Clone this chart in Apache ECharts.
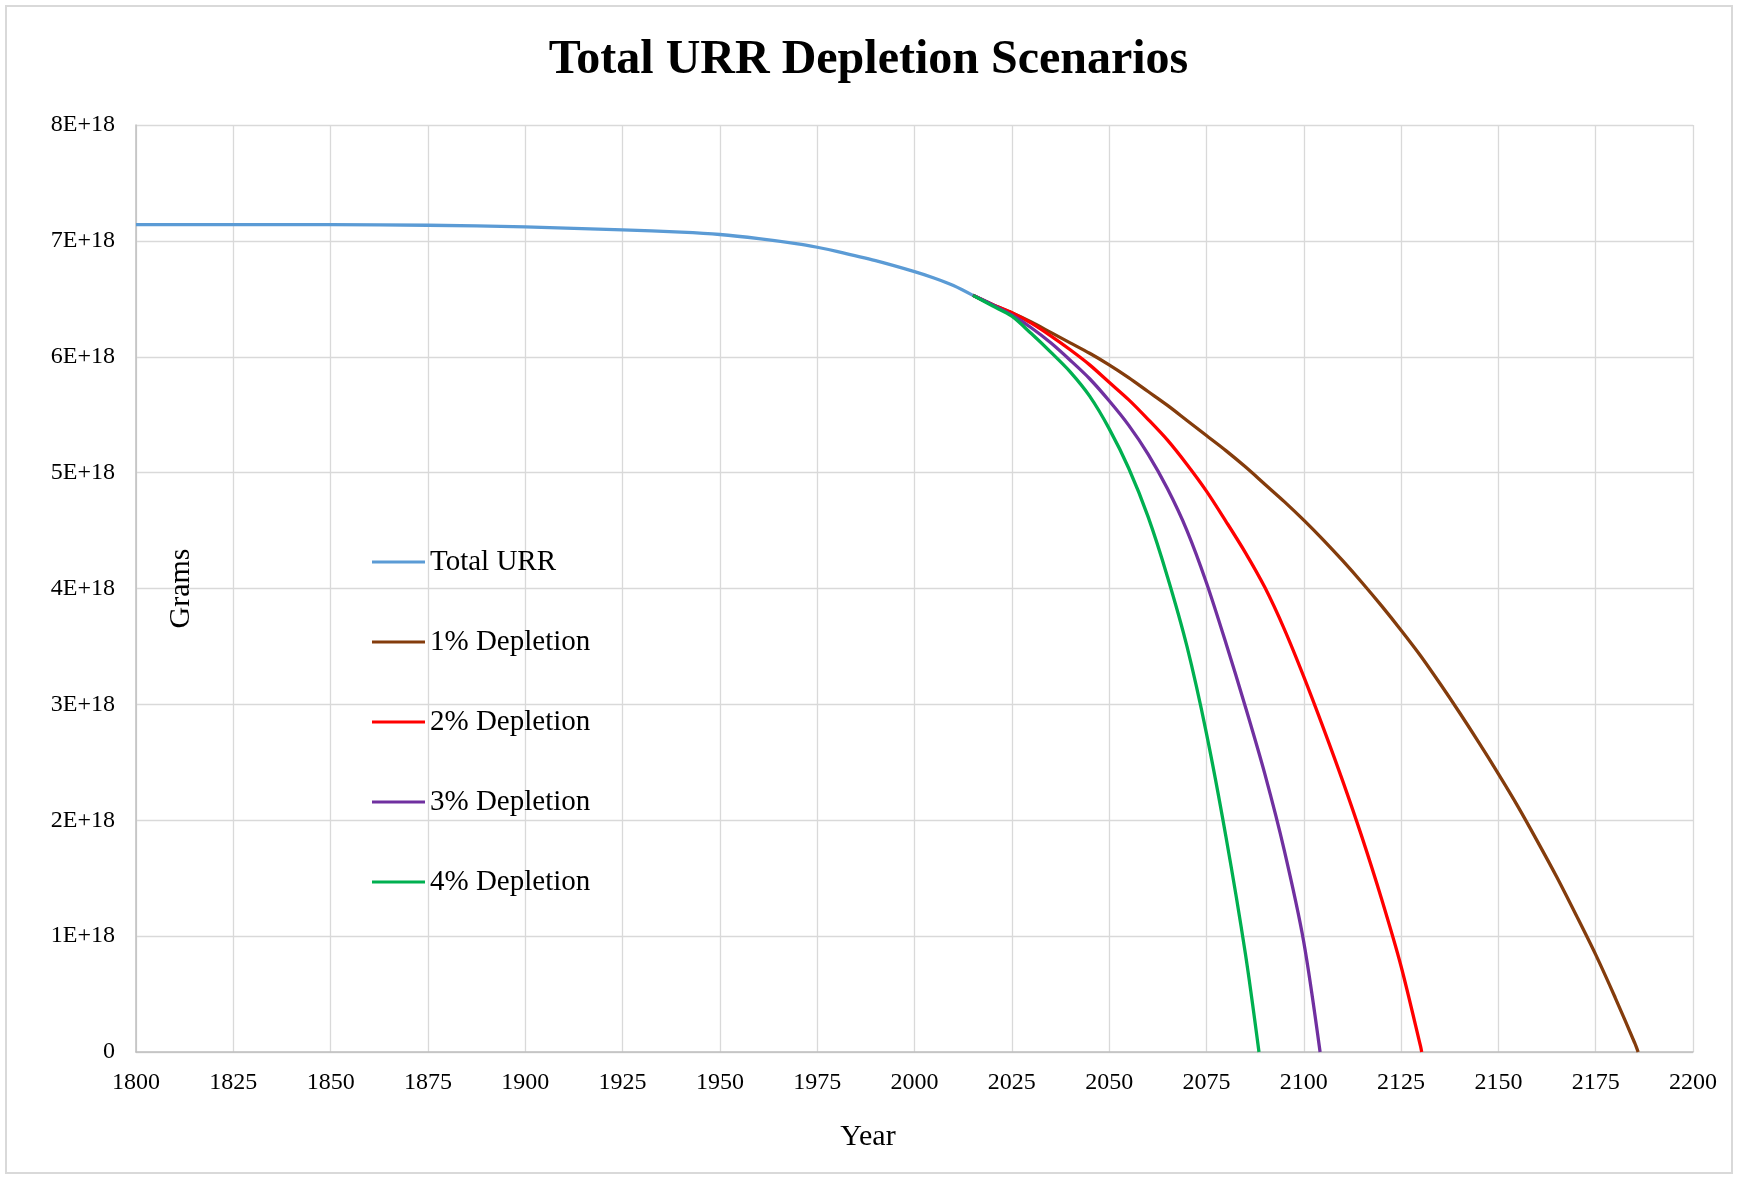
<!DOCTYPE html>
<html>
<head>
<meta charset="utf-8">
<title>Total URR Depletion Scenarios</title>
<script src="https://cdn.jsdelivr.net/npm/echarts@6/dist/echarts.min.js"></script>
<style>
  html, body { margin: 0; padding: 0; background: #fff; }
  #main { width: 1737px; height: 1177px; }
</style>
</head>
<body>
<div id="main"></div>
<script>
// values are in units of 1E+18 grams
var urrYears = [1800, 1825, 1850, 1875, 1900, 1925, 1940, 1950, 1960, 1970, 1975, 1980, 1990, 2000, 2005, 2010, 2015];
var urrValues = [7.14, 7.14, 7.14, 7.135, 7.12, 7.095, 7.075, 7.055, 7.02, 6.975, 6.945, 6.91, 6.83, 6.735, 6.68, 6.615, 6.53];

var dep1Years = [2015, 2020, 2025, 2030, 2035, 2040, 2045, 2050, 2055, 2060, 2065, 2070, 2075, 2080, 2085, 2090, 2095, 2100,
                 2105, 2110, 2115, 2120, 2125, 2130, 2135, 2140, 2145, 2150, 2155, 2160, 2165, 2170, 2175, 2180, 2185, 2185.9];
var dep1Values = [6.53, 6.45, 6.38, 6.30, 6.21, 6.12, 6.03, 5.93, 5.82, 5.70, 5.58, 5.45, 5.32, 5.19, 5.05, 4.90, 4.75, 4.59,
                  4.42, 4.24, 4.05, 3.85, 3.64, 3.42, 3.18, 2.93, 2.67, 2.40, 2.12, 1.82, 1.51, 1.18, 0.84, 0.47, 0.08, 0];

var dep2Years = [2015, 2020, 2025, 2030, 2035, 2040, 2045, 2050, 2055, 2060, 2065, 2070, 2075, 2080, 2085, 2090, 2095, 2100,
                 2105, 2110, 2115, 2120, 2125, 2130, 2130.3];
var dep2Values = [6.53, 6.45, 6.38, 6.29, 6.18, 6.06, 5.93, 5.78, 5.63, 5.46, 5.28, 5.07, 4.84, 4.58, 4.31, 4.01, 3.65, 3.24,
                  2.80, 2.34, 1.85, 1.32, 0.74, 0.05, 0];

var dep3Years = [2015, 2020, 2025, 2030, 2035, 2040, 2045, 2050, 2055, 2060, 2065, 2070, 2075, 2080, 2085, 2090, 2095, 2100, 2104.2];
var dep3Values = [6.53, 6.45, 6.36, 6.25, 6.12, 5.97, 5.81, 5.62, 5.41, 5.16, 4.86, 4.50, 4.05, 3.53, 2.98, 2.40, 1.74, 0.95, 0];

var dep4Years = [2015, 2020, 2025, 2030, 2035, 2040, 2045, 2050, 2055, 2060, 2065, 2070, 2075, 2080, 2085, 2088.5];
var dep4Values = [6.53, 6.44, 6.35, 6.20, 6.04, 5.87, 5.66, 5.38, 5.04, 4.62, 4.10, 3.50, 2.75, 1.86, 0.85, 0];

var seriesNames = ['Total URR', '1% Depletion', '2% Depletion', '3% Depletion', '4% Depletion'];
var seriesColors = ['#5B9BD5', '#843C0C', '#FF0000', '#7030A0', '#00B050'];
var yTickLabels = ['0', '1E+18', '2E+18', '3E+18', '4E+18', '5E+18', '6E+18', '7E+18', '8E+18'];

function pairs(xs, ys) {
    return xs.map(function (x, i) { return [x, ys[i]]; });
}

var allData = [
    pairs(urrYears, urrValues),
    pairs(dep1Years, dep1Values),
    pairs(dep2Years, dep2Values),
    pairs(dep3Years, dep3Values),
    pairs(dep4Years, dep4Values)
];

var font = '"Liberation Serif", "Times New Roman", serif';
var gridColor = '#D9D9D9';

var myChart = echarts.init(document.getElementById('main'), null, { renderer: 'canvas' });

var option = {
    backgroundColor: '#fff',
    animation: false,
    title: {
        text: 'Total URR Depletion Scenarios',
        left: 'center',
        top: 32,
        textStyle: { fontFamily: font, fontWeight: 'bold', fontSize: 48, color: '#000' }
    },
    legend: {
        orient: 'vertical',
        left: 372,
        top: 547,
        padding: 0,
        itemWidth: 53,
        itemHeight: 3,
        itemGap: 50,
        icon: 'rect',
        data: seriesNames,
        textStyle: { fontFamily: font, fontSize: 29, color: '#000', lineHeight: 30 }
    },
    grid: { left: 136, right: 44, top: 125, bottom: 125, containLabel: false },
    xAxis: {
        type: 'value',
        min: 1800,
        max: 2200,
        interval: 25,
        name: 'Year',
        nameLocation: 'middle',
        nameGap: 70,
        // the title of this axis sits under the middle of the whole picture, not of the plot
        nameTextStyle: { fontFamily: font, fontSize: 30, color: '#000', padding: [0, 93, 0, 0] },
        axisLine: { show: true, lineStyle: { color: '#BFBFBF', width: 1.5 } },
        axisTick: { show: false },
        axisLabel: {
            fontFamily: font, fontSize: 24, color: '#000', margin: 19,
            formatter: function (v) { return String(v); }
        },
        splitLine: { show: true, lineStyle: { color: gridColor, width: 1.3 } }
    },
    yAxis: {
        type: 'value',
        min: 0,
        max: 8,
        interval: 1,
        name: 'Grams',
        nameLocation: 'middle',
        nameRotate: 90,
        nameGap: -60,
        nameTextStyle: { fontFamily: font, fontSize: 30, color: '#000' },
        axisLine: { show: true, lineStyle: { color: '#BFBFBF', width: 1.5 } },
        axisTick: { show: false },
        axisLabel: {
            fontFamily: font, fontSize: 24, color: '#000', margin: 21,
            formatter: function (v) { return yTickLabels[Math.round(v)]; }
        },
        splitLine: { show: true, lineStyle: { color: gridColor, width: 1.3 } }
    },
    graphic: [{
        type: 'rect',
        shape: { x: 6, y: 6, width: 1726, height: 1167 },
        style: { fill: 'none', stroke: '#D9D9D9', lineWidth: 2 },
        silent: true
    }],
    series: seriesNames.map(function (name, i) {
        return {
            name: name,
            type: 'line',
            data: allData[i],
            symbol: 'none',
            smooth: 0.3,
            lineStyle: { color: seriesColors[i], width: 3.3 },
            itemStyle: { color: seriesColors[i] }
        };
    })
};

myChart.setOption(option);
</script>
</body>
</html>
